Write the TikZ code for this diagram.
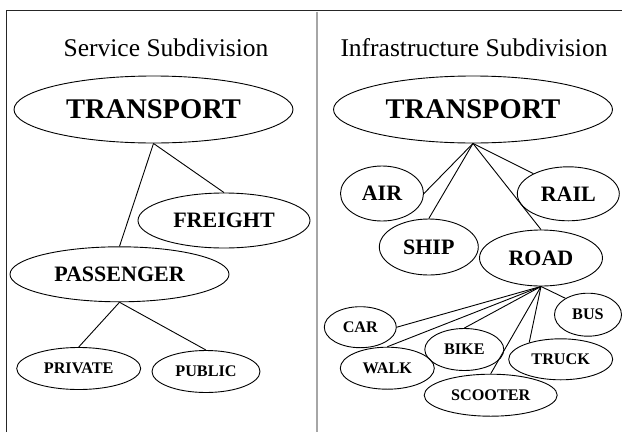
\documentclass[tikz,border=0pt]{standalone}
\usepackage{fontspec}
\setmainfont{Liberation Serif}
\usepackage{tikz}
\usetikzlibrary{shapes.geometric}
\newcommand\Lrg{\fontsize{28.5}{32}\selectfont\bfseries}
\newcommand\Mid{\fontsize{22}{26}\selectfont\bfseries}
\newcommand\Sml{\fontsize{16.2}{19}\selectfont\bfseries}

\begin{document}
\begin{tikzpicture}[x=1pt,y=-1pt,line width=0.9pt,inner sep=0pt]

  \tikzstyle{oval}=[ellipse,draw]
  \tikzstyle{title}=[anchor=base,font=\fontsize{25.5}{30}\selectfont]

  \useasboundingbox (0,0) rectangle (622,432);

  % frame and divider
  \draw[line width=1.3pt,black!85] (6.3,432) -- (6.3,10.7) -- (622,10.7);
  \draw[line width=2pt,gray!70] (316.7,11.5) -- (316.7,432);

  \node[title] (ST) at (166,56) {Service Subdivision};
  \node[title] (IT) at (474,56) {Infrastructure Subdivision};

  % service side
  \node[oval,minimum width=279,minimum height=67] (TL)  at (153.5,109.5) {\Lrg TRANSPORT};
  \node[oval,minimum width=172,minimum height=55] (FRT) at (224,220.5)   {\Mid FREIGHT};
  \node[oval,minimum width=219,minimum height=55] (PSG) at (119.5,274.3) {\Mid PASSENGER};
  \node[oval,minimum width=124,minimum height=42] (PRV) at (78.7,368.5)  {\Sml PRIVATE};
  \node[oval,minimum width=108,minimum height=42] (PUB) at (206,371.5)   {\Sml PUBLIC};

  % infrastructure side
  \node[oval,minimum width=279,minimum height=67] (TR)  at (473,109.5)   {\Lrg TRANSPORT};
  \node[oval,minimum width=83,minimum height=55]  (AIR) at (382,193.5)   {\Mid AIR};
  \node[oval,minimum width=99,minimum height=56]  (SHP) at (428.8,247)   {\Mid SHIP};
  \node[oval,minimum width=102,minimum height=54] (RAL) at (568.3,193.8) {\Mid RAIL};
  \node[oval,minimum width=123,minimum height=56] (ROD) at (541,258)     {\Mid ROAD};
  \node[oval,minimum width=67,minimum height=43]  (BUS) at (588,314.7)   {\Sml BUS};
  \node[oval,minimum width=72,minimum height=41]  (CAR) at (360.3,327.2) {\Sml CAR};
  \node[oval,minimum width=94,minimum height=42]  (WLK) at (387.3,368.2) {\Sml WALK};
  \node[oval,minimum width=79,minimum height=42]  (BIK) at (464.3,349.5) {\Sml BIKE};
  \node[oval,minimum width=104,minimum height=41] (TRK) at (560.7,359.3) {\Sml TRUCK};
  \node[oval,minimum width=133,minimum height=42] (SCT) at (490.7,395.2) {\Sml SCOOTER};

  \path
  (TL.south)  edge (FRT.north)
  (TL.south)  edge (PSG.north)
  (PSG.south) edge (PRV.north)
  (PSG.south) edge (PUB.north)

  (TR.south)  edge (AIR.east)
  (TR.south)  edge (SHP.north)
  (TR.south)  edge (RAL.150)
  (TR.south)  edge (ROD.north)

  (ROD.south) edge (CAR.east)
  (ROD.south) edge (WLK.north)
  (ROD.south) edge (BIK.north)
  (ROD.south) edge (SCT.north)
  (ROD.south) edge (TRK.152)
  (ROD.south) edge (BUS.144)
  ;
\end{tikzpicture}
\end{document}
